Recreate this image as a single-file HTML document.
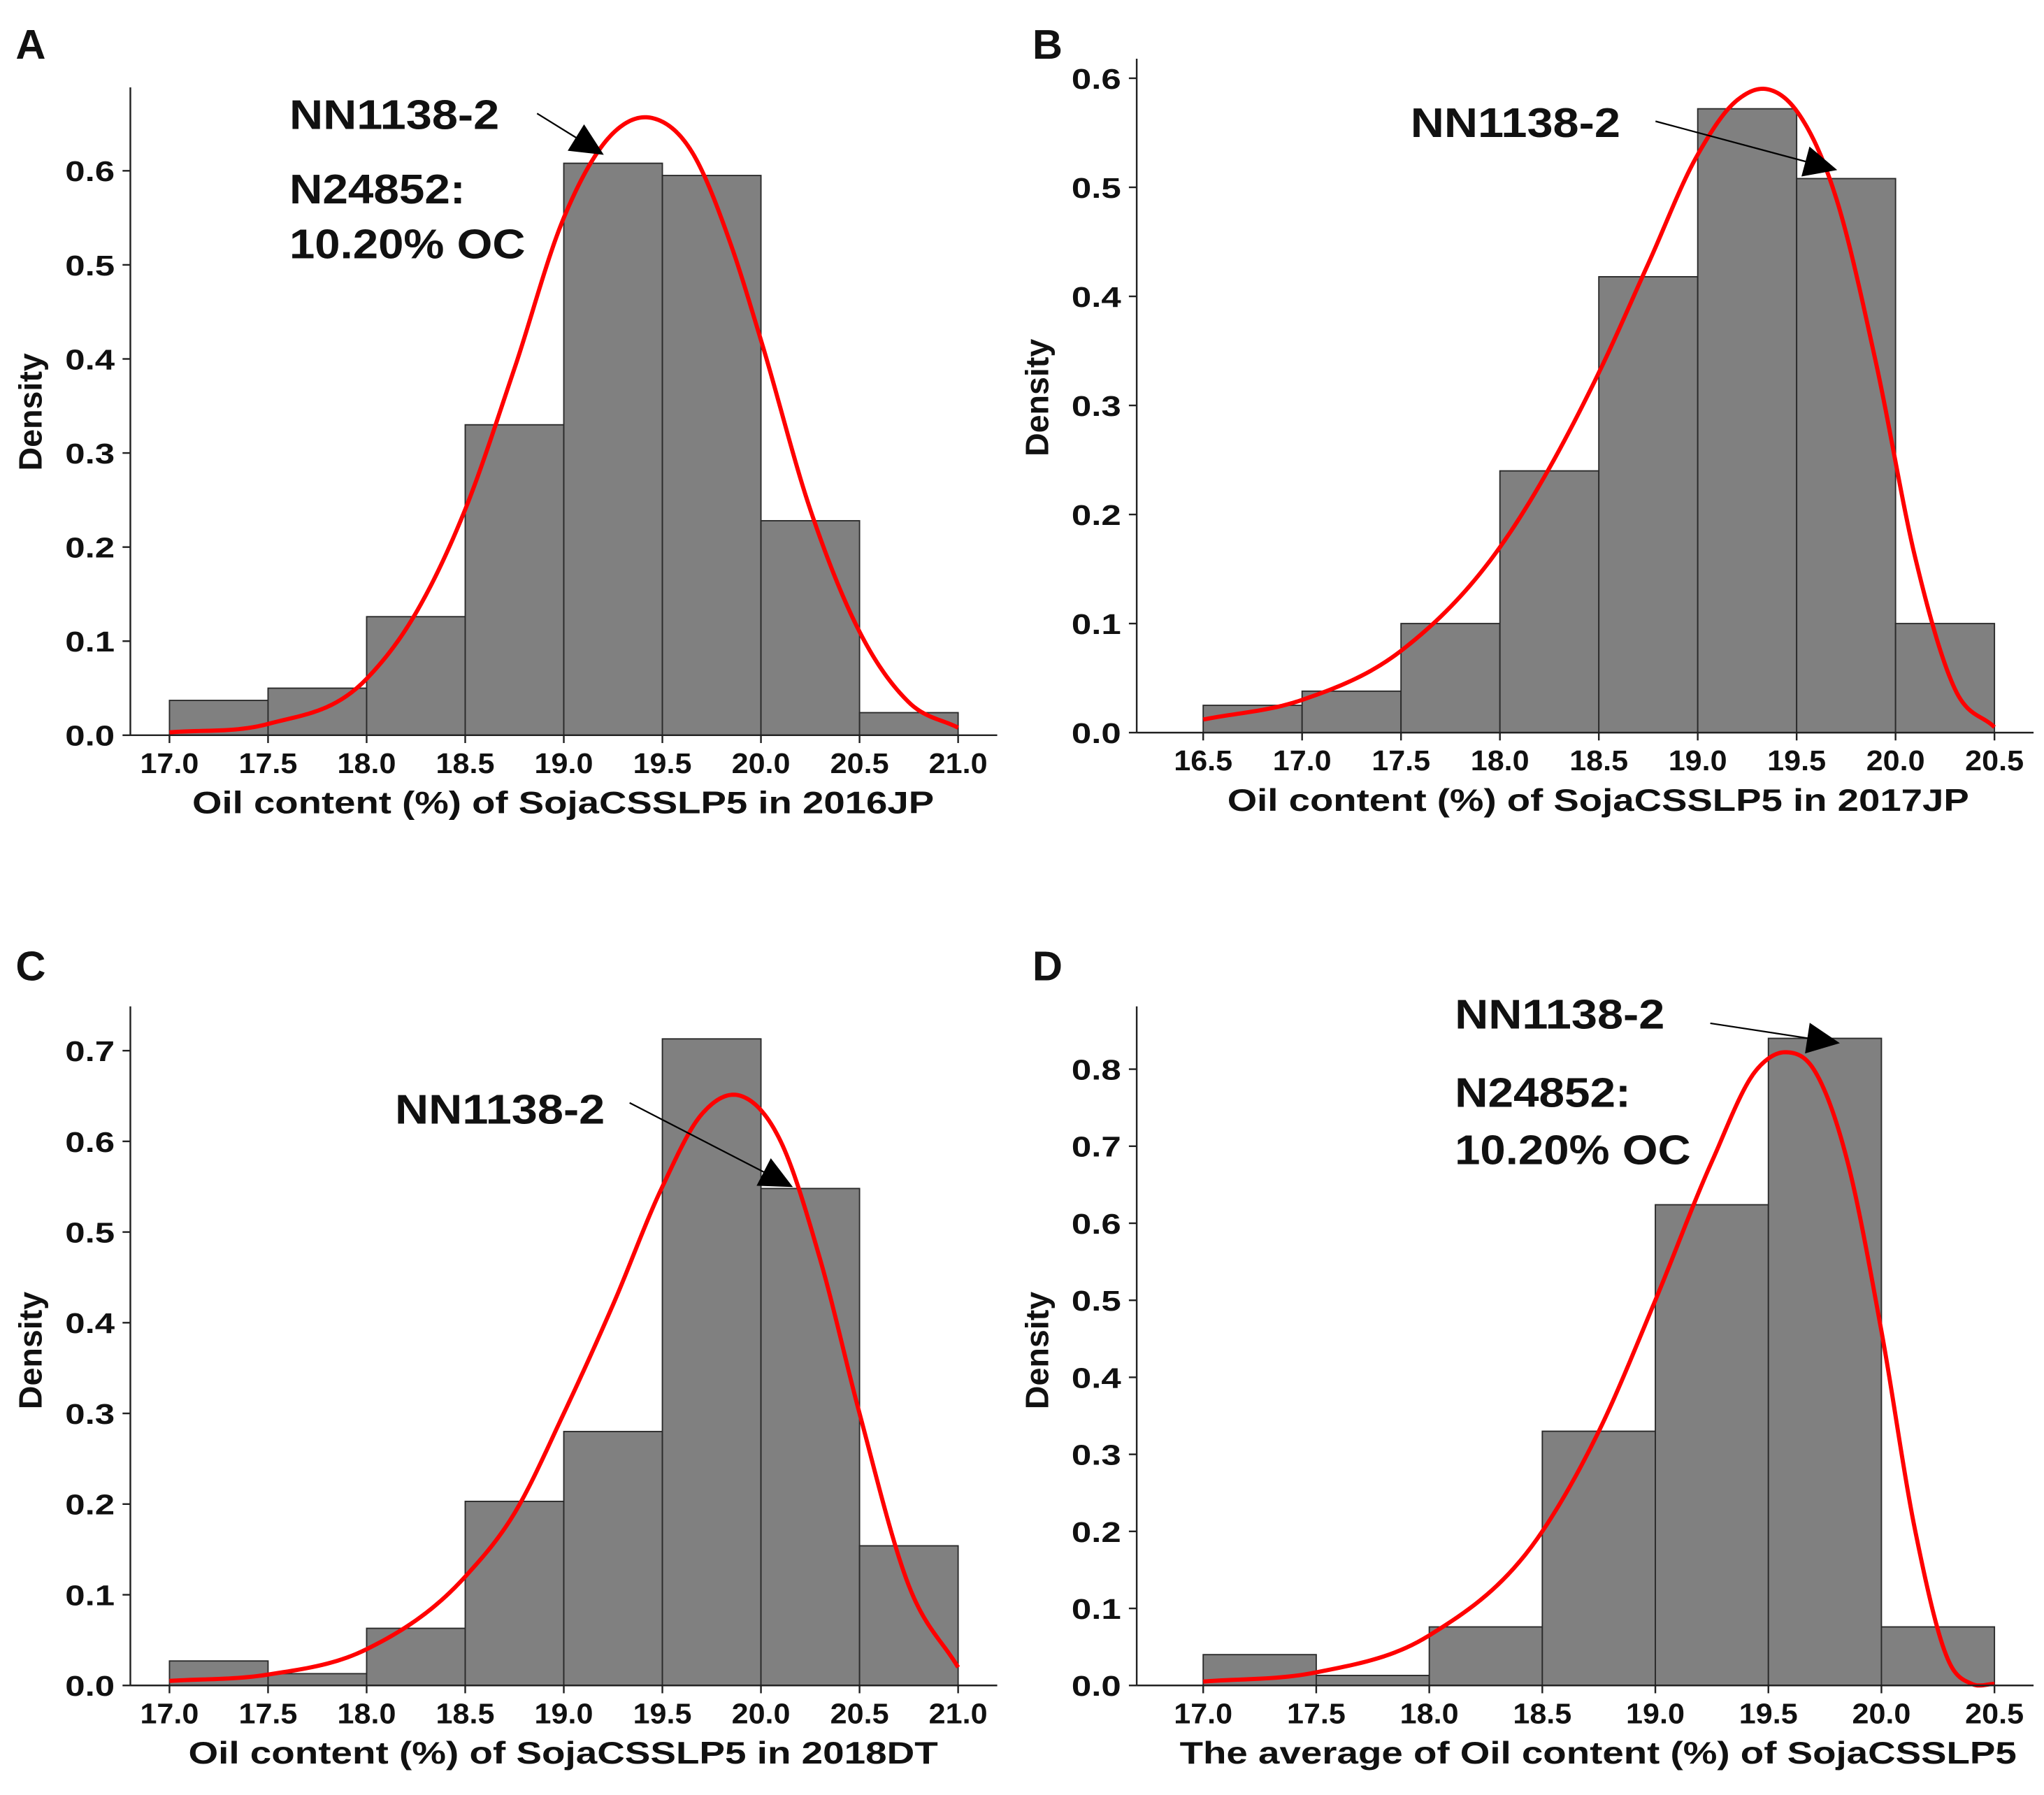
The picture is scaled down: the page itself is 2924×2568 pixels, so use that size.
<!DOCTYPE html>
<html><head><meta charset="utf-8"><style>body{margin:0;background:#fff}svg{display:block}text{font-family:"Liberation Sans",Arial,sans-serif;font-weight:bold;fill:#111}</style></head>
<body>
<svg id="fig" width="2924" height="2568" viewBox="0 0 1568 1377" xmlns="http://www.w3.org/2000/svg"></svg>
<script>
const binsA=[0.037,0.05,0.126,0.33,0.608,0.595,0.228,0.024];
const curveAx=[17,17.5,18,18.25,18.5,18.75,19,19.25,19.45,19.65,19.85,20,20.25,20.5,20.75,21];
const curveAy=[0.003,0.012,0.06,0.13,0.24,0.39,0.55,0.64,0.656,0.62,0.52,0.42,0.24,0.11,0.035,0.008];
const binsB=[0.025,0.038,0.1,0.24,0.418,0.572,0.508,0.1];
const curveBx=[16.5,17,17.5,18,18.5,18.75,19,19.2,19.35,19.5,19.7,19.9,20.1,20.3,20.5];
const curveBy=[0.012,0.03,0.075,0.17,0.33,0.43,0.53,0.58,0.59,0.57,0.49,0.34,0.16,0.04,0.005];
const binsC=[0.027,0.013,0.063,0.203,0.28,0.713,0.548,0.154];
const curveCx=[17,17.5,18,18.5,18.75,19,19.25,19.5,19.7,19.9,20.1,20.3,20.5,20.75,21];
const curveCy=[0.005,0.012,0.04,0.12,0.19,0.3,0.42,0.55,0.63,0.65,0.6,0.47,0.3,0.11,0.02];
const binsD=[0.04,0.013,0.076,0.33,0.624,0.84,0.076];
const curveDx=[17,17.5,18,18.5,18.75,19,19.25,19.45,19.58,19.7,19.85,20,20.15,20.3,20.4,20.5];
const curveDy=[0.005,0.017,0.065,0.2,0.33,0.5,0.68,0.8,0.822,0.8,0.68,0.46,0.2,0.03,0.002,0.002];
const xTicksA=["17.0","17.5","18.0","18.5","19.0","19.5","20.0","20.5","21.0"];
const xTicksB=["16.5","17.0","17.5","18.0","18.5","19.0","19.5","20.0","20.5"];
const xTicksD=["17.0","17.5","18.0","18.5","19.0","19.5","20.0","20.5"];
const yTicksA=["0.0","0.1","0.2","0.3","0.4","0.5","0.6"];
const yTicksC=["0.0","0.1","0.2","0.3","0.4","0.5","0.6","0.7"];
const yTicksD=["0.0","0.1","0.2","0.3","0.4","0.5","0.6","0.7","0.8"];

const svg=document.getElementById('fig');
const NS='http://www.w3.org/2000/svg';
function mk(tag,at,parent){const e=document.createElementNS(NS,tag);for(const k in at)e.setAttribute(k,at[k]);(parent||svg).appendChild(e);return e;}

const panels=[
 {id:'a',letter:'A',lx:12,ly:45,ax:100,top:67,bot:564,right:765,x0:17,xp0:130,xp1:735,x1:21,yppu:721.7,bins:binsA,bx0:17,cx:curveAx,cy:curveAy,xt:xTicksA,yt:yTicksA,xlab:'Oil content (%) of SojaCSSLP5 in 2016JP',xlw:569,xlc:432,ylabY:316,
  ann:[['NN1138-2',222,99,161],['N24852:',222,156,135],['10.20%  OC',222,198,181]],arr:[412,87,462,118]},
 {id:'b',letter:'B',lx:792,ly:45,ax:872,top:45,bot:562,right:1560,x0:16.5,xp0:923,xp1:1530,x1:20.5,yppu:836.7,bins:binsB,bx0:16.5,cx:curveBx,cy:curveBy,xt:xTicksB,yt:yTicksA,xlab:'Oil content (%) of SojaCSSLP5 in 2017JP',xlw:569,xlc:1226,ylabY:305,
  ann:[['NN1138-2',1082,105,161]],arr:[1270,93,1408,130]},
 {id:'c',letter:'C',lx:12,ly:752,ax:100,top:772,bot:1293,right:765,x0:17,xp0:130,xp1:735,x1:21,yppu:695.7,bins:binsC,bx0:17,cx:curveCx,cy:curveCy,xt:xTicksA,yt:yTicksC,xlab:'Oil content (%) of SojaCSSLP5 in 2018DT',xlw:575,xlc:432,ylabY:1036,
  ann:[['NN1138-2',303,862,161]],arr:[483,846,607,910]},
 {id:'d',letter:'D',lx:792,ly:752,ax:872,top:772,bot:1293,right:1560,x0:17,xp0:923,xp1:1530,x1:20.5,yppu:591,bins:binsD,bx0:17,cx:curveDx,cy:curveDy,xt:xTicksD,yt:yTicksD,xlab:'The average of Oil content (%) of SojaCSSLP5',xlw:642,xlc:1226,ylabY:1036,
  ann:[['NN1138-2',1116,789,161],['N24852:',1116,849,135],['10.20%  OC',1116,893,181]],arr:[1312,785,1410,800]}
];
mk('defs',{}).innerHTML='<marker id="ah" viewBox="0 0 10 10" refX="9" refY="5" markerWidth="20" markerHeight="14" orient="auto" markerUnits="userSpaceOnUse" style="overflow:visible"><path d="M0,0 L10,5 L0,10 z" fill="#000" transform="translate(-8,-3.5) scale(1.8,1.7)"/></marker>';

function hermite(xs,ys){
 const n=xs.length,m=[];
 for(let i=0;i<n;i++){
  if(i===0)m.push((ys[1]-ys[0])/(xs[1]-xs[0]));
  else if(i===n-1)m.push((ys[n-1]-ys[n-2])/(xs[n-1]-xs[n-2]));
  else{const d0=(ys[i]-ys[i-1])/(xs[i]-xs[i-1]),d1=(ys[i+1]-ys[i])/(xs[i+1]-xs[i]);m.push((d0*(xs[i+1]-xs[i])+d1*(xs[i]-xs[i-1]))/(xs[i+1]-xs[i-1]));}
 }
 const out=[];
 for(let i=0;i<n-1;i++){const h=xs[i+1]-xs[i];
  for(let k=0;k<20;k++){const t=k/20,t2=t*t,t3=t2*t;
   const y=(2*t3-3*t2+1)*ys[i]+(t3-2*t2+t)*h*m[i]+(-2*t3+3*t2)*ys[i+1]+(t3-t2)*h*m[i+1];
   out.push([xs[i]+t*h,Math.max(0,y)]);}}
 out.push([xs[n-1],ys[n-1]]);return out;
}

panels.forEach(p=>{
 const g=mk('g',{});
 
 
 const X=v=>p.xp0+(v-p.x0)*(p.xp1-p.xp0)/(p.x1-p.x0);
 const Y=v=>p.bot-v*p.yppu;
 p.bins.forEach((h,i)=>{
  const r=mk('rect',{x:X(p.bx0+i*0.5),y:Y(h),width:X(p.bx0+(i+1)*0.5)-X(p.bx0+i*0.5),height:p.bot-Y(h),fill:'#808080',stroke:'#2a2a2a','stroke-width':1},g);
  
  
 });
 const pts=hermite(p.cx,p.cy).map(q=>X(q[0]).toFixed(2)+','+Y(q[1]).toFixed(2));
 const c=mk('path',{d:'M'+pts.join(' L'),fill:'none',stroke:'#ff0000','stroke-width':3.2,'stroke-linejoin':'round'},g);
 
 
 const ya=mk('line',{x1:p.ax,y1:p.top,x2:p.ax,y2:p.bot,stroke:'#222','stroke-width':1.3},g);
 
 
 const xa=mk('line',{x1:p.ax,y1:p.bot,x2:p.right,y2:p.bot,stroke:'#222','stroke-width':1.3},g);
 
 
 p.xt.forEach(t=>{const x=X(parseFloat(t));
  mk('line',{x1:x,y1:p.bot,x2:x,y2:p.bot+6,stroke:'#222','stroke-width':1.3},g);
  const tx=mk('text',{x:x,y:p.bot+29,'font-size':22,'text-anchor':'middle',textLength:45,lengthAdjust:'spacingAndGlyphs'},g);tx.textContent=t;
  
  });
 p.yt.forEach(t=>{const y=Y(parseFloat(t));
  mk('line',{x1:p.ax-6,y1:y,x2:p.ax,y2:y,stroke:'#222','stroke-width':1.3},g);
  const tx=mk('text',{x:p.ax-12,y:y+8,'font-size':22,'text-anchor':'end',textLength:38,lengthAdjust:'spacingAndGlyphs'},g);tx.textContent=t;
  
  });
 const xl=mk('text',{x:p.xlc-p.xlw/2,y:p.bot+60,'font-size':24,textLength:p.xlw,lengthAdjust:'spacingAndGlyphs'},g);xl.textContent=p.xlab;
 
 
 const yl=mk('text',{x:0,y:0,'font-size':25,'text-anchor':'middle',transform:'translate('+(p.ax-68)+','+p.ylabY+') rotate(-90)'},g);yl.textContent='Density';
 
 
 const L=mk('text',{x:p.lx,y:p.ly,'font-size':32},g);L.textContent=p.letter;
 
 
 p.ann.forEach(a=>{const t=mk('text',{x:a[1],y:a[2],'font-size':32,textLength:a[3],lengthAdjust:'spacingAndGlyphs'},g);t.textContent=a[0];
  
  });
 const ar=mk('line',{x1:p.arr[0],y1:p.arr[1],x2:p.arr[2],y2:p.arr[3],stroke:'#000','stroke-width':1.2,'marker-end':'url(#ah)'},g);
 
 
});
</script>
</body></html>
